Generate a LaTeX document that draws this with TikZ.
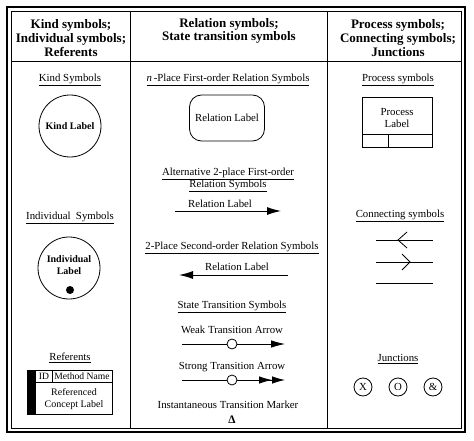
\documentclass[tikz,border=0pt]{standalone}
\usepackage{fontspec}
\setmainfont{Liberation Serif}
\usetikzlibrary{positioning,shapes,arrows.meta}
\tikzset{every picture/.style={line width=0.8pt}}
\tikzset{
  colhead/.style={font=\fontsize{13}{13.6}\selectfont\bfseries, align=center},
  subtitle/.style={align=center, inner sep=1pt},
  symtext/.style={align=center, inner sep=1pt},
  bigtip/.style={-{Latex[length=14pt,width=8pt]}, line width=1pt},
  junction/.style={draw, circle, minimum size=18pt, inner sep=0pt}
}

\begin{document}
\begin{tikzpicture}[x=1pt, y=-1pt, font=\fontsize{10.8}{12.4}\selectfont]
\useasboundingbox (0,0) rectangle (474,441);

    % Table frame
\draw[line width=2.6pt] (7,7) rectangle (465,432);
\draw (11,11) rectangle (461,428);
\draw (130,11) -- (130,428);
\draw (327,11) -- (327,428);
\draw (11,61) -- (461,61);

    % Column headings
\node[colhead] (H1) at (71,38) {Kind symbols;\\Individual symbols;\\Referents};
\node[colhead] (H2) at (229,31) {Relation symbols;\\State transition symbols};
\node[colhead] (H3) at (398,38) {Process symbols;\\Connecting symbols;\\Junctions};

    % Kind and individual symbols
\node[subtitle] (kindT) at (70,80) {\underline{Kind Symbols}};
\node[draw, circle, minimum size=62pt, font=\bfseries] (kind) at (70,126) {Kind Label};
\node[subtitle] (indivT) at (70,218) {\underline{Individual\ \ Symbols}};
\node[draw, circle, minimum size=62pt] (indiv) at (69,268) {};
\node[symtext, font=\bfseries] (indivL) at (69,265) {Individual\\Label};
\node[circle, fill, minimum size=8pt, inner sep=0pt] (dot) at (70,290) {};

    % Referents
\node[subtitle] (refT) at (70,358) {\underline{Referents}};
\node[draw, minimum width=85pt, minimum height=44pt] (ref) at (69.5,392) {};
\fill (27,370) rectangle (36,414);
\draw (36,382) -- (112,382);
\draw (52,370) -- (52,382);
\node[symtext, font=\fontsize{9.6}{11}\selectfont] (refID) at (44,376.5) {ID};
\node[symtext, font=\fontsize{9.6}{11}\selectfont] (refM) at (82,376.5) {Method Name};
\node[symtext, font=\fontsize{10}{11.6}\selectfont] (refL) at (74,399) {Referenced\\Concept Label};

    % Relation symbols
\node[subtitle] (nplT) at (228,80) {\underline{\textit{n}\,-Place First-order Relation Symbols}};
\node[draw, rounded corners=12pt, minimum width=75pt, minimum height=46pt] (rel) at (227,118) {Relation Label};
\node[subtitle] (altT) at (228,180) {\underline{Alternative 2-place First-order}\\\underline{Relation Symbols}};
\coordinate (a1s) at (175,211);
\coordinate (a1e) at (281,211);
\draw[bigtip] (a1s) -- (a1e);
\node[symtext] (a1L) at (220,204) {Relation Label};
\node[subtitle] (secT) at (232,248) {\underline{2-Place Second-order Relation Symbols}};
\coordinate (a2s) at (288,275);
\coordinate (a2e) at (179,275);
\draw[bigtip] (a2s) -- (a2e);
\node[symtext] (a2L) at (237,267) {Relation Label};

    % State transition symbols
\node[subtitle] (stT) at (232,307) {\underline{State Transition Symbols}};
\node[symtext] (weakL) at (232,330) {Weak Transition Arrow};
\coordinate (w1) at (182,344);
\coordinate (w2) at (285,344);
\draw[-{Latex[length=14pt,width=7.5pt]}] (w1) -- (w2);
\node[draw, circle, fill=white, minimum size=10pt, inner sep=0pt] (wo) at (232,344) {};
\node[symtext] (strongL) at (232,367) {Strong Transition Arrow};
\coordinate (s1) at (182,380);
\coordinate (s2) at (285,380);
\draw[-{Latex[length=13pt,width=7.5pt]Latex[length=13pt,width=7.5pt]}] (s1) -- (s2);
\node[draw, circle, fill=white, minimum size=10pt, inner sep=0pt] (so) at (232,380) {};
\node[symtext] (instL) at (228,405) {Instantaneous Transition Marker};
\node[symtext, font=\fontsize{11.5}{12}\selectfont\bfseries] (delta) at (232,420) {Δ};

    % Process symbols
\node[subtitle] (procT) at (398,80) {\underline{Process symbols}};
\node[draw, minimum width=70pt, minimum height=50pt] (proc) at (397,122) {};
\draw (362,134) -- (432,134);
\draw (388,134) -- (388,147);
\node[symtext] (procL) at (397,118) {Process\\Label};

    % Connecting symbols
\node[subtitle] (conT) at (400,216) {\underline{Connecting symbols}};
\draw (376,240) -- (433,240);
\draw (407,232) -- (398,240) -- (407,248);
\draw (376,262) -- (433,262);
\draw (402,254) -- (410,262) -- (402,270);
\draw (376,283) -- (433,283);

    % Junctions
\node[subtitle] (junT) at (398,359) {\underline{Junctions}};
\node[junction] (jX) at (363,387) {X};
\node[junction] (jO) at (398,387) {O};
\node[junction] (jA) at (433,387) {\&};
\end{tikzpicture}
\end{document}
